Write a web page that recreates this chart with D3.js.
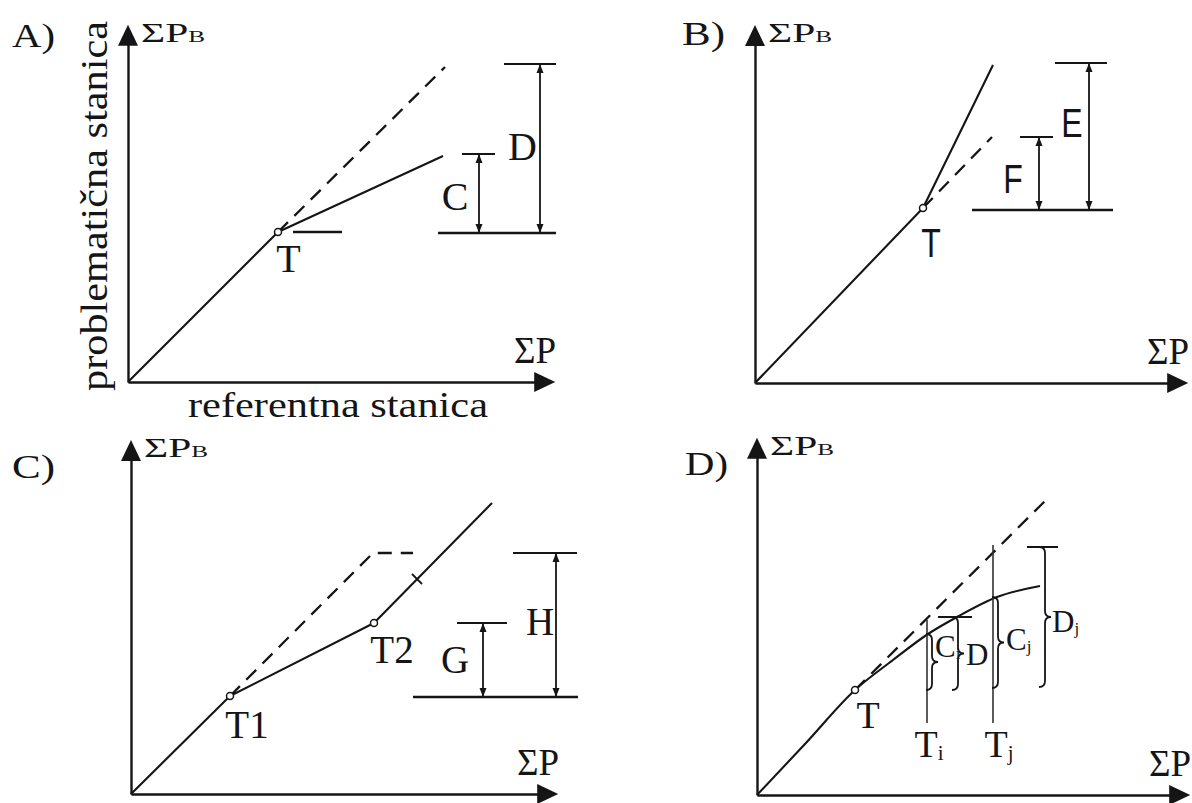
<!DOCTYPE html>
<html>
<head>
<meta charset="utf-8">
<script src="https://cdn.jsdelivr.net/npm/d3@7"></script>
<style>
  body { margin: 0; background: #fff; }
  svg { display: block; }
</style>
</head>
<body>
<div id="chart"></div>
<script>
// ---- shared texts ----
var panelTitles = ["A)", "B)", "C)", "D)"];
var yAxisTitle = "ΣP", yAxisSub = "B", xAxisTitle = "ΣP";
var yName = "problematična stanica";
var xName = "referentna stanica";

// axis lengths in data units [x, y]
var axisMax = [[106.8, 89.3], [108.3, 89.5], [106.8, 88.5], [108.3, 89.3]];

// ---- A) ----
var solidA = [[0, 0], [37.5, 37.5], [78.75, 56.5]];
var dashA = [[37.5, 37.5], [79.25, 78.75]];
var pointsA = [[37.5, 37.5]];
var levelsA = [[41.25, 53.5, 37.5], [77.5, 107, 37.25]];            // x0, x1, y
var dimsA = [[87.75, 37.25, 57, 83.5, 91.75], [103, 37.25, 79.5, 94, 107]]; // x, y0, y1, cap x0, cap x1
var labelsA = [
  {text: "T", sub: "", x: 40.1, y: 27.5},
  {text: "C", sub: "", x: 81.75, y: 43},
  {text: "D", sub: "", x: 98.6, y: 55.5}
];

// ---- B) ----
var solidB = [[0, 0], [42, 43.75], [59.5, 79.5]];
var dashB = [[42, 43.75], [59.25, 61.5]];
var pointsB = [[42, 43.75]];
var levelsB = [[54.25, 89.5, 43.25]];
var dimsB = [[71, 43.25, 61.5, 66.25, 74.5], [83.5, 43.25, 80, 75, 88]];
var labelsB = [
  {text: "T", sub: "", x: 44, y: 31.5},
  {text: "F", sub: "", x: 64.5, y: 47.5},
  {text: "E", sub: "", x: 79.25, y: 61.5}
];

// ---- C) ----
var solidC = [[0, 0], [24.75, 24.5], [60.75, 42.75], [90.25, 72.75]];
var dashC = [[24.75, 24.5], [60.5, 60.25], [70.5, 60.25]];
var pointsC = [[24.75, 24.5], [60.75, 42.75]];
var ticksC = [[71.5, 53.75]];
var levelsC = [[70.5, 111.75, 24.25]];
var dimsC = [[88, 24.25, 42.75, 81.5, 94], [106.25, 24.25, 60.25, 95.5, 111.5]];
var labelsC = [
  {text: "T1", sub: "", x: 29, y: 14},
  {text: "T2", sub: "", x: 65.25, y: 32.75},
  {text: "G", sub: "", x: 81, y: 30.25},
  {text: "H", sub: "", x: 102.25, y: 39.75}
];

// ---- D) ----
var curveD = [[0, 0], [12, 12.75], [24.5, 26.25], [34, 33.75], [42.75, 40.25], [50, 44.5], [60, 49.5], [70.75, 52.25]];
var dashD = [[24.5, 26.25], [72.25, 73.75]];
var pointsD = [[24.5, 26.25]];
var guidesD = [[42.5, 18, 43.75], [59, 18, 62.5]];          // x, y0, y1
var capsD = [[45.25, 53.75, 44.5], [67.5, 75.25, 62]];      // x0, x1, y
var bracesD = [[43.75, 26.25, 40.25], [50.25, 26.25, 44.5], [60.25, 26.75, 49.5], [72, 27, 62]]; // x, y0, y1
var labelsD = [
  {text: "T", sub: "", x: 27.75, y: 16.75},
  {text: "T", sub: "i", x: 43, y: 9.5},
  {text: "T", sub: "j", x: 60.5, y: 9.5},
  {text: "C", sub: "i", x: 44.5, y: 34.5, brace: true},
  {text: "D", sub: "", x: 52.25, y: 32.5, brace: true},
  {text: "C", sub: "j", x: 62.25, y: 36.25, brace: true},
  {text: "D", sub: "j", x: 73.75, y: 40.75, brace: true}
];

// ---- layout ----
var W = 1192, H = 803;
var unit = 4; // px per data unit
var origins = [[128, 382], [755, 383], [131, 794], [757, 795]];
var titlePos = [[12, 47], [682, 45], [12, 478], [685, 475]];
var serif = "'Liberation Serif','Times New Roman',serif";
var sans = "'Liberation Sans',Arial,sans-serif";
var ink = "#151515";

var labelStyle = [
  {family: serif, size: 40},
  {family: sans, size: 40, squeeze: 0.8},
  {family: serif, size: 39},
  {family: serif, size: 38}
];
var braceStyle = {family: serif, size: 31};

var svg = d3.select("#chart").append("svg")
  .attr("width", W).attr("height", H);

function addText(g, str, sub, px, py, st, anchor) {
  var t = g.append("text")
    .attr("x", px).attr("y", py)
    .attr("font-family", st.family)
    .attr("font-size", st.size)
    .attr("fill", ink)
    .attr("text-anchor", anchor || "middle");
  t.append("tspan").text(str);
  if (sub) {
    t.append("tspan").text(sub)
      .attr("font-size", st.size * 0.55)
      .attr("dy", st.size * 0.08);
  }
  if (st.squeeze) {
    var len = t.node().getComputedTextLength();
    t.attr("textLength", len * st.squeeze).attr("lengthAdjust", "spacingAndGlyphs");
  }
  return t;
}

function bracePath(xs, yb, yt) {
  // right-pointing curly brace, spine at xs, from yb (bottom) to yt (top)
  var h = 6, m = (yb + yt) / 2;
  return "M" + (xs - h) + "," + yt +
    " Q" + xs + "," + yt + " " + xs + "," + (yt + h) +
    " L" + xs + "," + (m - h) +
    " Q" + xs + "," + m + " " + (xs + h) + "," + m +
    " Q" + xs + "," + m + " " + xs + "," + (m + h) +
    " L" + xs + "," + (yb - h) +
    " Q" + xs + "," + yb + " " + (xs - h) + "," + yb;
}

var specs = [
  {solid: solidA, dash: dashA, points: pointsA, levels: levelsA, dims: dimsA, labels: labelsA},
  {solid: solidB, dash: dashB, points: pointsB, levels: levelsB, dims: dimsB, labels: labelsB},
  {solid: solidC, dash: dashC, points: pointsC, levels: levelsC, dims: dimsC, labels: labelsC, ticks: ticksC},
  {curve: curveD, dash: dashD, points: pointsD, guides: guidesD, caps: capsD, braces: bracesD, labels: labelsD}
];

specs.forEach(function(s, i) {
  var ox = origins[i][0], oy = origins[i][1];
  var x = d3.scaleLinear().domain([0, 100]).range([ox, ox + 100 * unit]);
  var y = d3.scaleLinear().domain([0, 100]).range([oy, oy - 100 * unit]);
  var g = svg.append("g");

  // axes (no ticks), with arrow heads
  var xTip = x(axisMax[i][0]), yTip = y(axisMax[i][1]);
  var xa = d3.scaleLinear().domain([0, axisMax[i][0]]).range([ox, xTip - 12]);
  var ya = d3.scaleLinear().domain([0, axisMax[i][1]]).range([oy, yTip + 12]);
  g.append("g").attr("transform", "translate(0," + oy + ")")
    .call(d3.axisBottom(xa).tickValues([]).tickSizeOuter(0));
  g.append("g").attr("transform", "translate(" + ox + ",0)")
    .call(d3.axisLeft(ya).tickValues([]).tickSizeOuter(0));
  g.selectAll(".domain").attr("stroke", ink).attr("stroke-width", 2.4);
  g.append("path")
    .attr("d", "M" + xTip + "," + oy + " L" + (xTip - 21) + "," + (oy - 10) + " L" + (xTip - 21) + "," + (oy + 10) + "Z")
    .attr("fill", ink);
  g.append("path")
    .attr("d", "M" + ox + "," + yTip + " L" + (ox - 10) + "," + (yTip + 21) + " L" + (ox + 10) + "," + (yTip + 21) + "Z")
    .attr("fill", ink);

  // axis titles
  var ty = g.append("text")
    .attr("x", ox + 13).attr("y", yTip + 17)
    .attr("font-family", serif).attr("font-size", 28).attr("fill", ink)
    .attr("textLength", 64).attr("lengthAdjust", "spacingAndGlyphs");
  ty.append("tspan").text(yAxisTitle);
  ty.append("tspan").text(yAxisSub).attr("font-size", 17);
  g.append("text")
    .attr("x", xTip + 1).attr("y", oy - 19)
    .attr("font-family", serif).attr("font-size", 37).attr("fill", ink)
    .attr("text-anchor", "end")
    .text(xAxisTitle);

  // panel title
  g.append("text")
    .attr("x", titlePos[i][0]).attr("y", titlePos[i][1])
    .attr("font-family", serif).attr("font-size", 34).attr("fill", ink)
    .attr("textLength", 43).attr("lengthAdjust", "spacingAndGlyphs")
    .text(panelTitles[i]);

  var line = d3.line().x(function(d) { return x(d[0]); }).y(function(d) { return y(d[1]); });

  // dashed reference line
  g.append("path").attr("d", line(s.dash))
    .attr("fill", "none").attr("stroke", ink).attr("stroke-width", 2.3)
    .attr("stroke-dasharray", "14,9");

  // main solid line / curve
  if (s.solid) {
    g.append("path").attr("d", line(s.solid))
      .attr("fill", "none").attr("stroke", ink).attr("stroke-width", 2.1)
      .attr("stroke-linejoin", "round");
  }
  if (s.curve) {
    g.append("path").attr("d", line.curve(d3.curveMonotoneX)(s.curve))
      .attr("fill", "none").attr("stroke", ink).attr("stroke-width", 2.1);
    line.curve(d3.curveLinear);
  }

  // horizontal level lines
  (s.levels || []).forEach(function(l) {
    g.append("line")
      .attr("x1", x(l[0])).attr("x2", x(l[1]))
      .attr("y1", y(l[2])).attr("y2", y(l[2]))
      .attr("stroke", ink).attr("stroke-width", 2.4);
  });

  // dimension bars with arrows
  (s.dims || []).forEach(function(d) {
    var dx = x(d[0]), y0 = y(d[1]), y1 = y(d[2]);
    g.append("line").attr("x1", dx).attr("x2", dx).attr("y1", y0).attr("y2", y1)
      .attr("stroke", ink).attr("stroke-width", 1.8);
    g.append("line").attr("x1", x(d[3])).attr("x2", x(d[4])).attr("y1", y1).attr("y2", y1)
      .attr("stroke", ink).attr("stroke-width", 2);
    g.append("path")
      .attr("d", "M" + dx + "," + y1 + " l-3.5,9 h7Z M" + dx + "," + y0 + " l-3.5,-9 h7Z")
      .attr("fill", ink);
  });

  // tick marks on a line
  (s.ticks || []).forEach(function(t) {
    var tx = x(t[0]), tyy = y(t[1]);
    g.append("line").attr("x1", tx - 5).attr("y1", tyy - 5).attr("x2", tx + 5).attr("y2", tyy + 5)
      .attr("stroke", ink).attr("stroke-width", 1.8);
  });

  // thin vertical guides
  (s.guides || []).forEach(function(v) {
    g.append("line").attr("x1", x(v[0])).attr("x2", x(v[0]))
      .attr("y1", y(v[1])).attr("y2", y(v[2]))
      .attr("stroke", "#333").attr("stroke-width", 1.6);
  });
  (s.caps || []).forEach(function(c) {
    g.append("line").attr("x1", x(c[0])).attr("x2", x(c[1]))
      .attr("y1", y(c[2])).attr("y2", y(c[2]))
      .attr("stroke", ink).attr("stroke-width", 2);
  });
  (s.braces || []).forEach(function(b) {
    g.append("path").attr("d", bracePath(x(b[0]), y(b[1]), y(b[2])))
      .attr("fill", "none").attr("stroke", ink).attr("stroke-width", 1.8);
  });

  // break points
  s.points.forEach(function(p) {
    g.append("circle").attr("cx", x(p[0])).attr("cy", y(p[1])).attr("r", 3.5)
      .attr("fill", "#fff").attr("stroke", ink).attr("stroke-width", 1.5);
  });

  // labels
  s.labels.forEach(function(l) {
    if (l.brace) addText(g, l.text, l.sub, x(l.x), y(l.y), braceStyle, "start");
    else addText(g, l.text, l.sub, x(l.x), y(l.y), labelStyle[i], "middle");
  });
});

// axis names of panel A
svg.append("text")
  .attr("transform", "translate(107,206) rotate(-90)")
  .attr("text-anchor", "middle")
  .attr("font-family", serif).attr("font-size", 38).attr("fill", ink)
  .attr("textLength", 370).attr("lengthAdjust", "spacingAndGlyphs")
  .text(yName);
svg.append("text")
  .attr("x", 338).attr("y", 417)
  .attr("text-anchor", "middle")
  .attr("font-family", serif).attr("font-size", 35).attr("fill", ink)
  .attr("textLength", 300).attr("lengthAdjust", "spacingAndGlyphs")
  .text(xName);
</script>
</body>
</html>
